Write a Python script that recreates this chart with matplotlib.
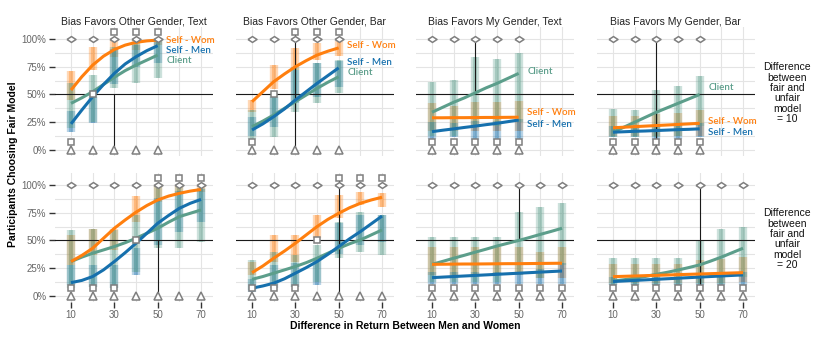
import numpy as np
import matplotlib.pyplot as plt

# x positions
x_top = [10, 20, 30, 40, 50]
x_bot = [10, 20, 30, 40, 50, 60, 70]
x_fit_top = [10, 15, 20, 25, 30, 35, 40, 45, 50]
x_fit_bot = [10, 15, 20, 25, 30, 35, 40, 45, 50, 55, 60, 65, 70]

titles = ['Bias Favors Other Gender, Text', 'Bias Favors Other Gender, Bar',
          'Bias Favors My Gender, Text', 'Bias Favors My Gender, Bar']
row_labels = ['Difference\nbetween\nfair and\nunfair\nmodel\n= 10',
              'Difference\nbetween\nfair and\nunfair\nmodel\n= 20']

# fitted curves (% choosing fair model), one list per panel
wom_fit_top = [[54, 66, 76.5, 84.5, 90.5, 94.5, 97, 98.3, 99],
               [43.5, 52.5, 61.5, 68.5, 75, 80.5, 85.5, 89, 92],
               [29, 29, 29.1, 29.1, 29.2, 29.3, 29.3, 29.4, 29.5],
               [20, 20.5, 21, 21.5, 22, 22.5, 23, 23.5, 24]]
men_fit_top = [[23.5, 36, 48, 59, 69, 77.5, 84, 89.5, 94],
               [18, 23.5, 30, 37, 45, 52.5, 60, 67, 74],
               [16.5, 17.8, 19, 20.3, 21.5, 22.8, 24, 25.5, 27],
               [16, 16.4, 16.8, 17.1, 17.5, 17.9, 18.3, 18.6, 19]]
cli_fit_top = [[42, 47, 52.5, 59, 65.5, 71.5, 76.5, 81, 85.5],
               [21, 26, 31.5, 37.5, 43.5, 49.5, 55.5, 61, 66],
               [34, 38.5, 43, 47, 51.5, 56, 60, 64.5, 69],
               [16, 20.5, 25, 29.5, 34, 38, 42, 46, 50]]
wom_fit_bot = [[31, 36.5, 43, 52, 61, 68.5, 75.5, 81.5, 86.5, 90, 92.5, 94.5, 96],
               [21, 27, 34, 40.5, 47.5, 55, 62.5, 69, 74.5, 79.5, 83.5, 86.5, 89],
               [28.5, 28.6, 28.7, 28.8, 28.8, 28.9, 29, 29.1, 29.1, 29.2, 29.3, 29.4, 29.5],
               [17.4, 17.7, 18, 18.3, 18.6, 18.9, 19.2, 19.5, 19.8, 20.1, 20.4, 20.7, 21]]
men_fit_bot = [[12, 14, 17.5, 23.5, 31, 39, 47.5, 56.5, 65.5, 72.5, 79, 83.5, 87],
               [7, 9, 11.5, 15.5, 20.5, 25.5, 31, 37.5, 44.5, 51.5, 58, 65, 72],
               [16.5, 17, 17.5, 18, 18.5, 19, 19.5, 20, 20.5, 21, 21.5, 22, 22.5],
               [13, 13.5, 14, 14.5, 15, 15.5, 16, 16.5, 17, 17.5, 18, 18.5, 19]]
cli_fit_bot = [[31, 35, 38.5, 41.5, 44.5, 48, 52, 56.5, 61, 66.5, 71.5, 74.5, 77.5],
               [15, 17.5, 20.5, 23.5, 26.5, 30, 34, 38.5, 43, 47, 50.5, 55, 59.5],
               [28.5, 31.2, 34, 36.7, 39.5, 42.2, 45, 47.5, 50, 52.7, 55.5, 58.2, 61],
               [13.4, 14.6, 16, 17.6, 19.5, 21.3, 23.4, 25.6, 28, 31.4, 35, 39, 43]]

# participant clouds: low / high extent at each x
wom_lo_top = [[45, 72, 84, 90, 95], [34, 55, 72, 81, 85], [17, 17, 17, 17, 17], [13, 13, 13, 13, 13]]
wom_hi_top = [[71, 93, 99, 99, 100], [45, 77, 92, 96, 98], [42, 40, 43, 43, 44], [31, 31, 32, 33, 36]]
men_lo_top = [[16, 24, 59, 75, 78], [13, 21, 42, 48, 57], [10, 12, 9, 9, 10], [12, 12, 9, 10, 12]]
men_hi_top = [[35, 48, 91, 95, 99], [30, 48, 72, 78, 80], [25, 24, 26, 26, 28], [22, 22, 22, 23, 24]]
cli_lo_top = [[20, 25, 56, 60, 65], [10, 12, 34, 42, 51], [13, 13, 22, 22, 25], [12, 12, 12, 13, 22]]
cli_hi_top = [[60, 68, 93, 97, 99], [36, 51, 75, 78, 81], [61, 63, 84, 82, 87], [37, 36, 54, 58, 67]]
wom_lo_bot = [[28, 37, 41, 67, 85, 92, 94], [19, 31, 31, 52, 70, 82, 80],
              [19, 19, 19, 19, 19, 16, 16], [12, 12, 12, 12, 12, 12, 13]]
wom_hi_bot = [[55, 60, 60, 90, 100, 100, 100], [31, 55, 55, 73, 91, 94, 93],
              [44, 44, 44, 44, 44, 40, 44], [29, 29, 29, 29, 32, 33, 35]]
men_lo_bot = [[10, 8, 7, 19, 46, 58, 67], [4, 7, 8, 10, 38, 46, 49],
              [11, 11, 11, 11, 11, 11, 11], [10, 10, 10, 10, 10, 10, 10]]
men_hi_bot = [[28, 28, 28, 43, 88, 95, 96], [15, 28, 30, 32, 66, 73, 73],
              [22, 22, 22, 22, 22, 24, 30], [17, 17, 17, 17, 20, 20, 22]]
cli_lo_bot = [[7, 8, 7, 22, 43, 43, 49], [5, 10, 8, 13, 34, 40, 37],
              [13, 13, 13, 13, 19, 16, 28], [10, 10, 10, 10, 11, 11, 17]]
cli_hi_bot = [[59, 60, 59, 73, 100, 98, 97], [32, 40, 37, 46, 67, 76, 73],
              [53, 53, 53, 53, 76, 80, 84], [34, 34, 34, 34, 50, 60, 62]]

# reference markers
square_top = [[7, 50, 106, 106, 106], [7, 50, 106, 106, 106], [7, 7, 7, 7, 7], [7, 7, 7, 7, 7]]
square_bot = [[7, 7, 7, 50, 106, 106, 106], [7, 7, 7, 50, 106, 106, 106],
              [7, 7, 7, 7, 7, 7, 7], [7, 7, 7, 7, 7, 7, 7]]
vline_x = [30, 50]
vline_lo = [0, 0, 50, 0]
vline_hi = [50, 106, 100, 100]

# line labels (top row only)
lab_x = 54
wom_lab_y = [99, 94, 33.6, 25.5]
men_lab_y = [89.4, 79, 23, 16]
cli_lab_y = [80.5, 69.6, 70.5, 56]

c_wom = '#ff7f0e'
c_men = '#1670ad'
c_cli = '#5c9e8b'
grey = '#7f7f7f'

diamond = [(-1, 0), (0, 0.65), (1, 0), (0, -0.65), (-1, 0)]

W, H = 830, 342
fig = plt.figure(figsize=(W / 100, H / 100), dpi=100)
lefts = [54.75, 235.75, 415.75, 596.75]
tops = [26.8, 172.8]
pw, ph = 158.2, 128.7

for r in range(2):
    if r == 0:
        xs, xf = x_top, x_fit_top
        wf, mf, cf = wom_fit_top, men_fit_top, cli_fit_top
        wl, wh, ml, mh, cl, ch = wom_lo_top, wom_hi_top, men_lo_top, men_hi_top, cli_lo_top, cli_hi_top
        sq = square_top
    else:
        xs, xf = x_bot, x_fit_bot
        wf, mf, cf = wom_fit_bot, men_fit_bot, cli_fit_bot
        wl, wh, ml, mh, cl, ch = wom_lo_bot, wom_hi_bot, men_lo_bot, men_hi_bot, cli_lo_bot, cli_hi_bot
        sq = square_bot
    for c in range(4):
        ax = fig.add_axes([lefts[c] / W, 1 - (tops[r] + ph) / H, pw / W, ph / H])
        ax.set_xlim(2.5, 75.5)
        ax.set_ylim(-5, 111)
        for s in ax.spines.values():
            s.set_visible(False)
        for gx in range(10, 80, 10):
            ax.axvline(gx, color='#e4e4e4', lw=0.8, zorder=0)
        for gy in np.arange(0, 101, 12.5):
            ax.axhline(gy, color='#e4e4e4', lw=0.8, zorder=0)

        # clouds
        for lo, hi, col in [(wl, wh, c_wom), (ml, mh, c_men), (cl, ch, c_cli)]:
            ax.vlines(xs, lo[c], hi[c], colors=col, lw=6, alpha=0.3, zorder=1)
            ax.vlines(xs, lo[c], hi[c], colors=col, lw=3, alpha=0.35, zorder=1)

        # reference lines
        ax.axhline(50, color='#1a1a1a', lw=0.8, zorder=2)
        ax.vlines(vline_x[r], vline_lo[c], vline_hi[c], colors='#1a1a1a', lw=0.8, zorder=2)

        # fits
        ax.plot(xf, cf[c], color=c_cli, lw=2.2, zorder=3, solid_capstyle='butt')
        ax.plot(xf, mf[c], color=c_men, lw=2.2, zorder=3, solid_capstyle='butt')
        ax.plot(xf, wf[c], color=c_wom, lw=2.2, zorder=3, solid_capstyle='butt')

        # markers
        ax.plot(xs, [100] * len(xs), ls='none', marker=diamond, ms=6.5, mfc='white', mec=grey, mew=1.1, zorder=4)
        ax.plot(xs, [0] * len(xs), ls='none', marker='^', ms=5.5, mfc='white', mec=grey, mew=1.1, zorder=4)
        ax.plot(xs, sq[c], ls='none', marker='s', ms=5, mfc='white', mec=grey, mew=1.1, zorder=4)

        if r == 0:
            for ys, txt, col in [(wom_lab_y, 'Self - Wom', c_wom), (men_lab_y, 'Self - Men', c_men),
                                 (cli_lab_y, 'Client', c_cli)]:
                ax.text(lab_x, ys[c], txt, color=col, fontsize=7, family='Lato', fontweight='semibold',
                        va='center', ha='left', zorder=5)
            fig.text((lefts[c] + pw / 2) / W, 1 - 21.7 / H, titles[c], ha='center', va='center',
                     fontsize=7.5, color='#222222', family='Liberation Sans')

        ax.set_yticks([0, 25, 50, 75, 100])
        ax.set_yticklabels(['0%', '25%', '50%', '75%', '100%'])
        ax.set_xticks([10, 30, 50, 70])
        ax.tick_params(axis='both', length=4, width=1, color='#333333', labelsize=7,
                       labelcolor='#666666', pad=2)
        for lab in ax.get_xticklabels() + ax.get_yticklabels():
            lab.set_family('Liberation Sans')
        if c != 0:
            ax.tick_params(axis='y', left=False, labelleft=False)
        if r == 0:
            ax.tick_params(axis='x', bottom=False, labelbottom=False)

    fig.text(787 / W, 1 - (tops[r] + ph / 2 + 2) / H, row_labels[r], ha='center', va='center',
             fontsize=7.5, linespacing=1.05, color='#111111', family='Liberation Sans')

fig.text(13 / W, 1 - 164 / H, 'Participants Choosing Fair Model', rotation=90, ha='center', va='center',
         fontsize=7.5, fontweight='bold', family='Liberation Sans')
fig.text(405 / W, 1 - 326 / H, 'Difference in Return Between Men and Women', ha='center', va='center',
         fontsize=7.5, fontweight='bold', family='Liberation Sans')

fig.savefig('out.png', dpi=100)
